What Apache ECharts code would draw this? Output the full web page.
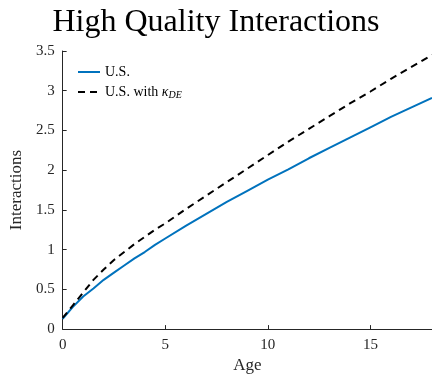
<!DOCTYPE html>
<html>
<head>
<meta charset="utf-8">
<script src="https://cdn.jsdelivr.net/npm/echarts@6/dist/echarts.min.js"></script>
<style>html,body{margin:0;padding:0;background:#fff}#c{width:432px;height:379px}</style>
</head>
<body>
<div id="c"></div>
<script>
const ages = [0, 0.5, 1, 1.5, 2, 2.5, 3, 3.5, 4, 4.5, 5, 6, 7, 8, 9, 10, 11, 12, 13, 14, 15, 16, 17, 18];
const usValues = [0.13, 0.28, 0.41, 0.51, 0.62, 0.71, 0.80, 0.89, 0.97, 1.06, 1.14, 1.30, 1.45, 1.60, 1.74, 1.88, 2.01, 2.15, 2.28, 2.41, 2.54, 2.67, 2.79, 2.91];
const usKappaValues = [0.14, 0.30, 0.46, 0.62, 0.75, 0.87, 0.97, 1.07, 1.16, 1.25, 1.33, 1.51, 1.68, 1.85, 2.02, 2.19, 2.36, 2.52, 2.68, 2.84, 2.99, 3.15, 3.30, 3.45];
const xTicks = [0, 5, 10, 15];
const yTicks = [0, 0.5, 1, 1.5, 2, 2.5, 3, 3.5];
const seriesNames = ['U.S.', 'U.S. with κDE'];

const font = 'Liberation Serif';
const axisColor = '#262626';
const chart = echarts.init(document.getElementById('c'), null, {renderer: 'canvas'});
chart.setOption({
  animation: false,
  title: {
    text: 'High Quality Interactions',
    left: 'center',
    top: 2,
    textStyle: {fontFamily: font, fontWeight: 'normal', fontSize: 32, color: '#000'}
  },
  legend: {
    orient: 'vertical',
    left: 77,
    top: 65,
    padding: 0,
    itemWidth: 22,
    itemHeight: 14,
    itemGap: 6,
    data: seriesNames,
    itemStyle: {opacity: 0},
    formatter: function (n) { return n === seriesNames[1] ? 'U.S. with {k|κ}{s|DE}' : n; },
    textStyle: {
      fontFamily: font, fontSize: 14, color: '#000',
      rich: {
        k: {fontFamily: font, fontStyle: 'italic', fontSize: 14, color: '#000'},
        s: {fontFamily: font, fontStyle: 'italic', fontSize: 10, color: '#000', padding: [6, 0, 0, 0]}
      }
    }
  },
  grid: {left: 62, right: 0, top: 51, bottom: 48, containLabel: false},
  xAxis: {
    type: 'value', min: 0, max: 18,
    name: 'Age', nameLocation: 'middle', nameGap: 23,
    nameTextStyle: {fontFamily: font, fontSize: 17, color: '#262626'},
    axisLine: {lineStyle: {color: axisColor, width: 1}},
    axisTick: {inside: true, length: 4, customValues: xTicks, lineStyle: {color: axisColor}},
    axisLabel: {customValues: xTicks, fontFamily: font, fontSize: 15, color: '#262626', margin: 8},
    splitLine: {show: false}
  },
  yAxis: {
    type: 'value', min: 0, max: 3.5, interval: 0.5,
    name: 'Interactions', nameLocation: 'middle', nameGap: 36,
    nameTextStyle: {fontFamily: font, fontSize: 17, color: '#262626'},
    axisLine: {show: true, lineStyle: {color: axisColor, width: 1}},
    axisTick: {show: true, inside: true, length: 4, lineStyle: {color: axisColor}},
    axisLabel: {fontFamily: font, fontSize: 15, color: '#262626', margin: 8,
      formatter: function (v) { return String(v); }},
    splitLine: {show: false}
  },
  series: [
    {
      name: seriesNames[0], type: 'line', showSymbol: false, symbol: 'none', smooth: false,
      data: ages.map((a, i) => [a, usValues[i]]),
      lineStyle: {color: '#0072BD', width: 2, join: 'round'},
      itemStyle: {color: '#0072BD'}
    },
    {
      name: seriesNames[1], type: 'line', showSymbol: false, symbol: 'none', smooth: false,
      data: ages.map((a, i) => [a, usKappaValues[i]]),
      lineStyle: {color: '#000', width: 2, type: [7, 5], join: 'round'},
      itemStyle: {color: '#000'}
    }
  ]
});
</script>
</body>
</html>
